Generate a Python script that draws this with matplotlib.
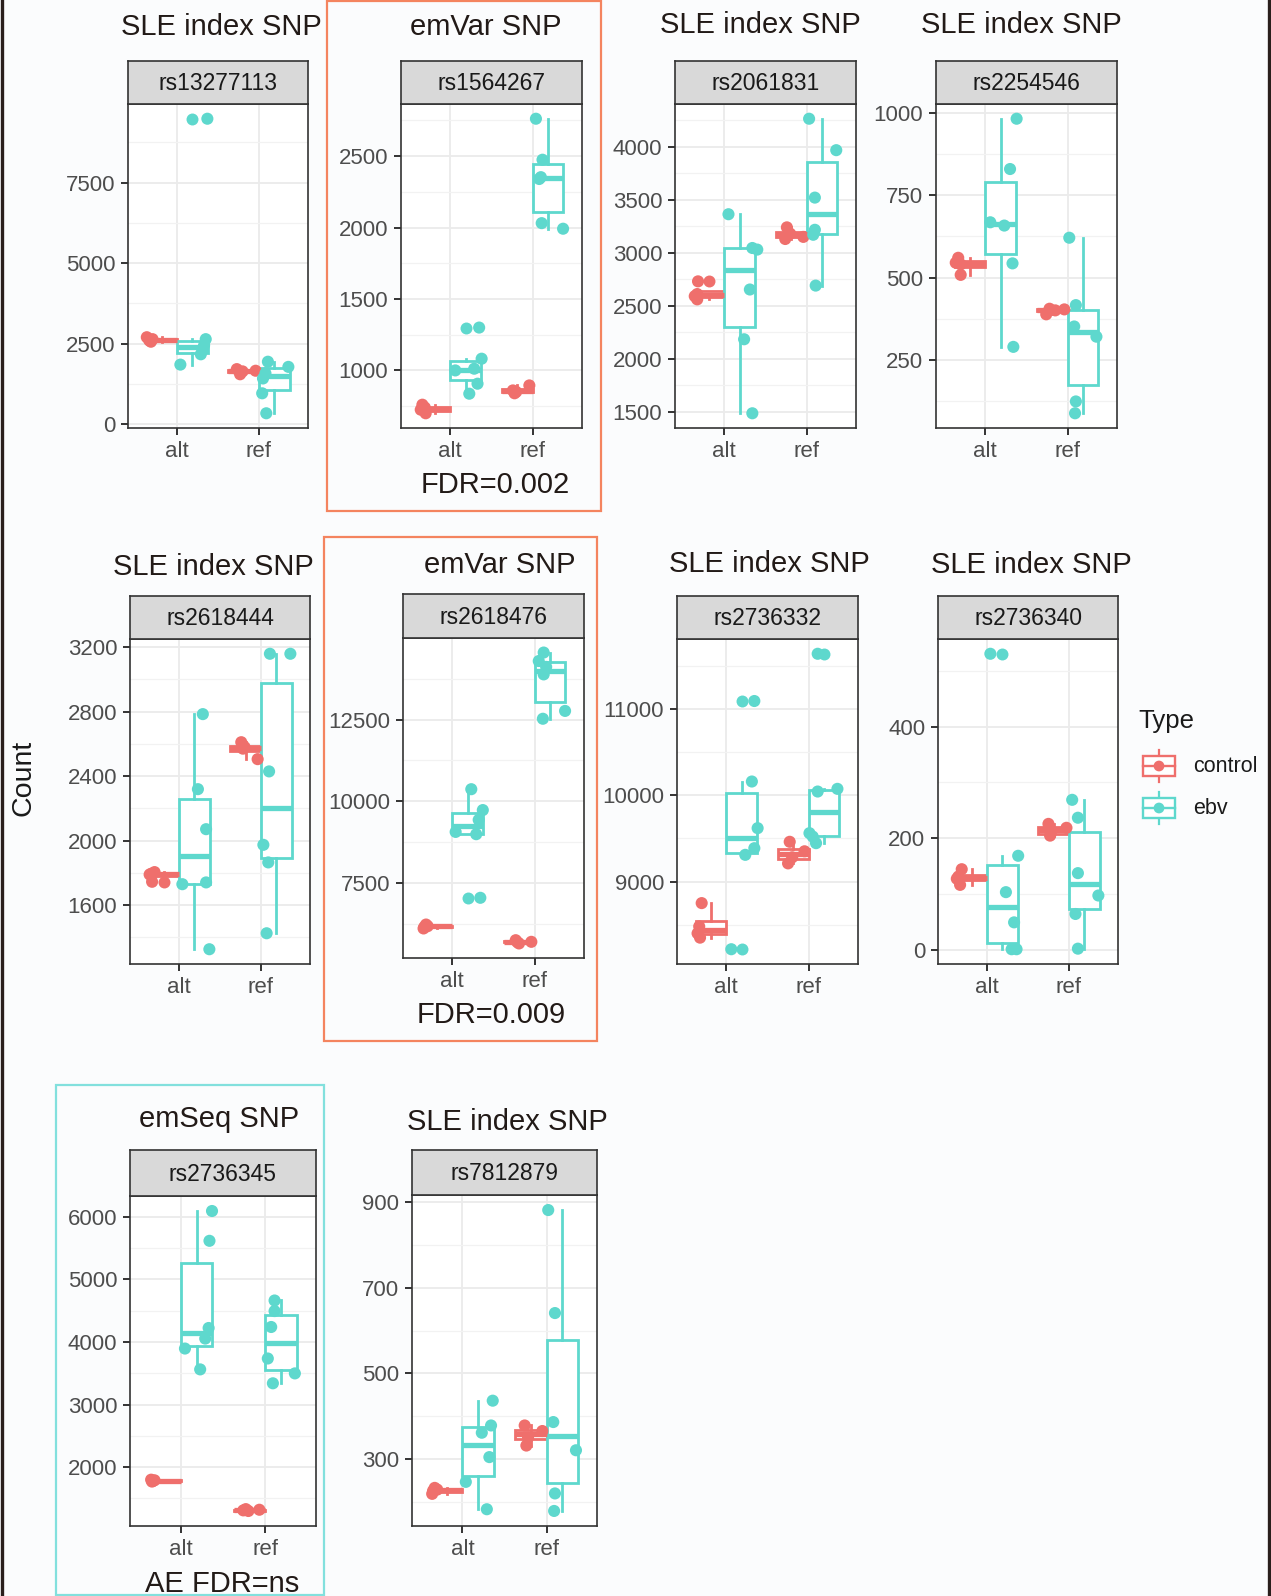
import numpy as np
import matplotlib
matplotlib.use("Agg")
import matplotlib.pyplot as plt
from matplotlib.patches import Rectangle
from matplotlib.lines import Line2D
from matplotlib.ticker import FixedLocator

plt.rcParams['font.family'] = ['Liberation Sans', 'DejaVu Sans']
plt.rcParams['xtick.labelsize'] = 16
plt.rcParams['ytick.labelsize'] = 16

# ---------------------------------------------------------------- data
CATEGORIES = ["alt", "ref"]
TYPES = ["control", "ebv"]

# counts per SNP / allele / type, with the horizontal jitter of each point
rs13277113_control_alt = [2700, 2640, 2600, 2560]
rs13277113_control_alt_jit = [-0.37, -0.30, -0.34, -0.32]
rs13277113_control_ref = [1710, 1660, 1640, 1550]
rs13277113_control_ref_jit = [-0.27, -0.04, -0.20, -0.23]
rs13277113_ebv_alt = [9480, 2640, 2450, 2330, 2170, 1850]
rs13277113_ebv_alt_jit = [0.37, 0.35, 0.33, 0.31, 0.29, 0.04]
rs13277113_ebv_ref = [1940, 1780, 1580, 1420, 960, 340]
rs13277113_ebv_ref_jit = [0.11, 0.36, 0.08, 0.05, 0.04, 0.09]

rs1564267_control_alt = [760, 740, 725, 700]
rs1564267_control_alt_jit = [-0.34, -0.31, -0.36, -0.30]
rs1564267_control_ref = [895, 860, 850, 840]
rs1564267_control_ref_jit = [-0.04, -0.24, -0.20, -0.22]
rs1564267_ebv_alt = [1300, 1082, 1012, 1000, 907, 837]
rs1564267_ebv_alt_jit = [0.35, 0.38, 0.29, 0.06, 0.33, 0.23]
rs1564267_ebv_ref = [2762, 2475, 2353, 2340, 2031, 1992]
rs1564267_ebv_ref_jit = [0.04, 0.12, 0.10, 0.08, 0.11, 0.37]

rs2061831_control_alt = [2730, 2610, 2590, 2560]
rs2061831_control_alt_jit = [-0.32, -0.33, -0.36, -0.33]
rs2061831_control_ref = [3240, 3180, 3150, 3130]
rs2061831_control_ref_jit = [-0.24, -0.20, -0.04, -0.26]
rs2061831_ebv_alt = [3364, 3045, 3030, 2653, 2183, 1484]
rs2061831_ebv_alt_jit = [0.05, 0.34, 0.40, 0.31, 0.24, 0.34]
rs2061831_ebv_ref = [4266, 3969, 3521, 3217, 3170, 2690]
rs2061831_ebv_ref_jit = [0.03, 0.36, 0.10, 0.10, 0.08, 0.11]

rs2254546_control_alt = [560, 545, 540, 508]
rs2254546_control_alt_jit = [-0.33, -0.36, -0.30, -0.30]
rs2254546_control_ref = [405, 403, 400, 388]
rs2254546_control_ref_jit = [-0.22, -0.04, -0.15, -0.26]
rs2254546_ebv_alt = [983, 830, 668, 658, 543, 289]
rs2254546_ebv_alt_jit = [0.38, 0.30, 0.06, 0.23, 0.33, 0.34]
rs2254546_ebv_ref = [621, 416, 351, 320, 123, 87]
rs2254546_ebv_ref_jit = [0.02, 0.10, 0.08, 0.35, 0.10, 0.09]

rs2618444_control_alt = [1805, 1795, 1790, 1745]
rs2618444_control_alt_jit = [-0.30, -0.34, -0.36, -0.33]
rs2618444_control_ref = [2610, 2580, 2570, 2505]
rs2618444_control_ref_jit = [-0.24, -0.20, -0.22, -0.04]
rs2618444_ebv_alt = [2784, 2319, 2071, 1741, 1730, 1327]
rs2618444_ebv_alt_jit = [0.29, 0.23, 0.33, 0.33, 0.04, 0.37]
rs2618444_ebv_ref = [3158, 3158, 2429, 1974, 1865, 1426]
rs2618444_ebv_ref_jit = [0.11, 0.36, 0.10, 0.03, 0.09, 0.07]

rs2618476_control_alt = [6220, 6170, 6150, 6100]
rs2618476_control_alt_jit = [-0.32, -0.30, -0.34, -0.35]
rs2618476_control_ref = [5740, 5690, 5680, 5640]
rs2618476_control_ref_jit = [-0.23, -0.04, -0.21, -0.19]
rs2618476_ebv_alt = [10370, 9730, 9430, 9060, 8990, 7040]
rs2618476_ebv_alt_jit = [0.23, 0.37, 0.32, 0.04, 0.29, 0.34]
rs2618476_ebv_ref = [14560, 14300, 14120, 13890, 12770, 12530]
rs2618476_ebv_ref_jit = [0.11, 0.05, 0.14, 0.11, 0.37, 0.10]

rs2736332_control_alt = [8750, 8480, 8400, 8350]
rs2736332_control_alt_jit = [-0.30, -0.33, -0.35, -0.32]
rs2736332_control_ref = [9460, 9350, 9280, 9210]
rs2736332_control_ref_jit = [-0.23, -0.05, -0.20, -0.25]
rs2736332_ebv_alt = [11090, 10158, 9618, 9386, 9309, 8216]
rs2736332_ebv_alt_jit = [0.34, 0.31, 0.38, 0.34, 0.23, 0.06]
rs2736332_ebv_ref = [11637, 10073, 10042, 9560, 9520, 9444]
rs2736332_ebv_ref_jit = [0.11, 0.35, 0.11, 0.01, 0.05, 0.09]

rs2736340_control_alt = [145, 132, 128, 117]
rs2736340_control_alt_jit = [-0.31, -0.35, -0.37, -0.33]
rs2736340_control_ref = [226, 219, 210, 205]
rs2736340_control_ref_jit = [-0.25, -0.03, -0.22, -0.23]
rs2736340_ebv_alt = [530, 169, 104, 50, 2, 2]
rs2736340_ebv_alt_jit = [0.04, 0.38, 0.23, 0.33, 0.30, 0.36]
rs2736340_ebv_ref = [269, 237, 138, 98, 65, 3]
rs2736340_ebv_ref_jit = [0.04, 0.11, 0.11, 0.36, 0.08, 0.11]

rs2736345_control_alt = [1800, 1790, 1780, 1770]
rs2736345_control_alt_jit = [-0.35, -0.31, -0.33, -0.34]
rs2736345_control_ref = [1330, 1320, 1310, 1300]
rs2736345_control_ref_jit = [-0.23, -0.07, -0.26, -0.20]
rs2736345_ebv_alt = [6090, 5614, 4222, 4053, 3894, 3561]
rs2736345_ebv_alt_jit = [0.37, 0.34, 0.33, 0.29, 0.05, 0.23]
rs2736345_ebv_ref = [4661, 4492, 4238, 3735, 3497, 3339]
rs2736345_ebv_ref_jit = [0.11, 0.11, 0.07, 0.03, 0.35, 0.09]

rs7812879_control_alt = [232, 228, 225, 218]
rs7812879_control_alt_jit = [-0.33, -0.30, -0.35, -0.36]
rs7812879_control_ref = [378, 365, 350, 331]
rs7812879_control_ref_jit = [-0.26, -0.05, -0.22, -0.24]
rs7812879_ebv_alt = [436, 378, 361, 304, 246, 182]
rs7812879_ebv_alt_jit = [0.36, 0.34, 0.23, 0.32, 0.04, 0.29]
rs7812879_ebv_ref = [882, 641, 386, 320, 219, 178]
rs7812879_ebv_ref_jit = [0.02, 0.10, 0.08, 0.35, 0.10, 0.09]

SNP_TITLES = {
    "rs13277113": "SLE index SNP", "rs1564267": "emVar SNP",
    "rs2061831": "SLE index SNP", "rs2254546": "SLE index SNP",
    "rs2618444": "SLE index SNP", "rs2618476": "emVar SNP",
    "rs2736332": "SLE index SNP", "rs2736340": "SLE index SNP",
    "rs2736345": "emSeq SNP", "rs7812879": "SLE index SNP",
}
SNP_TICKS = {
    "rs13277113": [0, 2500, 5000, 7500],
    "rs1564267": [1000, 1500, 2000, 2500],
    "rs2061831": [1500, 2000, 2500, 3000, 3500, 4000],
    "rs2254546": [250, 500, 750, 1000],
    "rs2618444": [1600, 2000, 2400, 2800, 3200],
    "rs2618476": [7500, 10000, 12500],
    "rs2736332": [9000, 10000, 11000],
    "rs2736340": [0, 200, 400],
    "rs2736345": [2000, 3000, 4000, 5000, 6000],
    "rs7812879": [300, 500, 700, 900],
}
FDR_NOTES = {"rs1564267": "FDR=0.002", "rs2618476": "FDR=0.009",
             "rs2736345": "AE FDR=ns"}

# ---------------------------------------------------------------- style
W, H = 1271, 1596
BG = '#FBFCFD'
INK = '#221A17'
COLORS = {"control": '#EF6F6C', "ebv": '#5ED8CD'}
ORANGE = '#F4845F'
CYAN = '#82E0DD'
DODGE = {"control": -0.1875, "ebv": 0.1875}
BOX_W = 0.375
TICK_FONT = 16

# panel geometry in pixels: left, right, strip top, plot top, plot bottom,
# title centre x, title baseline y, note centre x, note baseline y
LAYOUT = {
    "rs13277113": (128, 308, 61, 104, 428, 221, 35, None, None),
    "rs1564267": (401, 582, 61, 104, 428, 486, 35, 495, 493),
    "rs2061831": (675, 856, 61, 104, 428, 760, 33, None, None),
    "rs2254546": (936, 1117, 61, 104, 428, 1021, 33, None, None),
    "rs2618444": (130, 310, 596, 639, 964, 213, 575, None, None),
    "rs2618476": (403, 584, 594, 638, 958, 500, 573, 491, 1023),
    "rs2736332": (677, 858, 596, 639, 964, 769, 572, None, None),
    "rs2736340": (938, 1118, 596, 639, 964, 1031, 573, None, None),
    "rs2736345": (130, 316, 1150, 1196, 1526, 219, 1127, 222, 1592),
    "rs7812879": (412, 597, 1150, 1195, 1526, 507, 1130, None, None),
}

fig = plt.figure(figsize=(W / 100, H / 100), dpi=100, facecolor=BG)


def px_axes(l, r, t, b, **kw):
    return fig.add_axes([l / W, 1 - b / H, (r - l) / W, (b - t) / H], **kw)


def group(snp, typ, cat):
    vals = globals()[f"{snp}_{typ}_{cat}"]
    jit = globals()[f"{snp}_{typ}_{cat}_jit"]
    return np.asarray(vals, float), np.asarray(jit, float)


for snp, (l, r, st, pt, pb, tx, ty, nx, ny) in LAYOUT.items():
    ax = px_axes(l, r, pt, pb)
    ax.set_facecolor('white')
    ax.set_axisbelow(True)

    allv = []
    for ci, cat in enumerate(CATEGORIES):
        for typ in TYPES:
            vals, jit = group(snp, typ, cat)
            allv.extend(vals)
            col = COLORS[typ]
            ax.boxplot([vals], positions=[ci + DODGE[typ]], widths=BOX_W,
                       whis=1.5, patch_artist=True, showcaps=False,
                       manage_ticks=False,
                       boxprops=dict(facecolor='white', edgecolor=col, linewidth=2.0),
                       whiskerprops=dict(color=col, linewidth=2.0),
                       medianprops=dict(color=col, linewidth=3.8,
                                        solid_capstyle='butt'),
                       flierprops=dict(marker='o', markerfacecolor=col,
                                       markeredgecolor='none', markersize=8.6),
                       zorder=2)
            ax.scatter(ci + jit, vals, s=76, color=col, edgecolors='none',
                       zorder=4)

    lo, hi = min(allv), max(allv)
    pad = 0.05 * (hi - lo)
    ax.set_ylim(lo - pad, hi + pad)
    ax.set_xlim(-0.6, 1.6)

    ticks = SNP_TICKS[snp]
    step = ticks[1] - ticks[0]
    minors = np.arange(ticks[0] - step / 2, hi + pad, step)
    ax.yaxis.set_major_locator(FixedLocator(ticks))
    ax.yaxis.set_minor_locator(FixedLocator(minors))
    ax.set_yticklabels([str(t) for t in ticks], fontsize=TICK_FONT,
                       color='#4D4D4D')
    ax.set_xticks([0, 1])
    ax.set_xticklabels(CATEGORIES, fontsize=TICK_FONT, color='#4D4D4D')
    ax.grid(which='major', color='#EBEBEB', linewidth=1.3)
    ax.grid(which='minor', axis='y', color='#F2F2F2', linewidth=0.9)
    ax.tick_params(which='major', length=5.2, width=1.4, color='#333333',
                   pad=4)
    ax.tick_params(which='minor', length=0)
    for s in ax.spines.values():
        s.set_color('#333333')
        s.set_linewidth(1.2)

    # facet strip
    sax = px_axes(l, r, st, pt)
    sax.set_facecolor('#D9D9D9')
    sax.set_xticks([])
    sax.set_yticks([])
    for s in sax.spines.values():
        s.set_color('#333333')
        s.set_linewidth(1.2)
    sax.text(0.5, 0.47, snp, ha='center', va='center', fontsize=16.5,
             color='#1A1A1A', transform=sax.transAxes)

# overlay canvas in pixel coordinates for titles, notes, frames and legend
cv = fig.add_axes([0, 0, 1, 1], zorder=10)
cv.set_xlim(0, W)
cv.set_ylim(H, 0)
cv.axis('off')
cv.patch.set_alpha(0)

for snp, (l, r, st, pt, pb, tx, ty, nx, ny) in LAYOUT.items():
    cv.text(tx, ty, SNP_TITLES[snp], ha='center', va='baseline',
            fontsize=21, color=INK)
    if nx is not None:
        cv.text(nx, ny, FDR_NOTES[snp], ha='center', va='baseline',
                fontsize=21, color=INK)

cv.add_patch(Rectangle((327, 1), 274, 510, fill=False, edgecolor=ORANGE, lw=1.6))
cv.add_patch(Rectangle((324, 537), 273, 504, fill=False, edgecolor=ORANGE, lw=1.6))
cv.add_patch(Rectangle((56, 1085), 268, 510, fill=False, edgecolor=CYAN, lw=1.6))
cv.add_line(Line2D([1.5, 1.5], [0, H], color='#2A1F1C', lw=2.4))
cv.add_line(Line2D([1268.5, 1268.5], [0, H], color='#2A1F1C', lw=2.4))

cv.text(23, 778, "Count", rotation=90, ha='center', va='center',
        fontsize=20.5, color='#1A1A1A')

# legend
cv.text(1138, 721, "Type", ha='left', va='center', fontsize=18.5, color='#1A1A1A')
for typ, cy in (("control", 766), ("ebv", 808)):
    col = COLORS[typ]
    cv.add_line(Line2D([1159, 1159], [cy - 16, cy + 16], color=col, lw=1.6, zorder=1))
    cv.add_patch(Rectangle((1143, cy - 10), 32, 20, facecolor='white',
                           edgecolor=col, lw=1.7, zorder=2))
    cv.add_line(Line2D([1143, 1175], [cy, cy], color=col, lw=1.7, zorder=3))
    cv.scatter([1159], [cy], s=60, color=col, edgecolors='none', zorder=4)
    cv.text(1193, cy, typ, ha='left', va='center', fontsize=15.5, color='#1A1A1A')

fig.savefig("out.png", dpi=100, facecolor=BG)
